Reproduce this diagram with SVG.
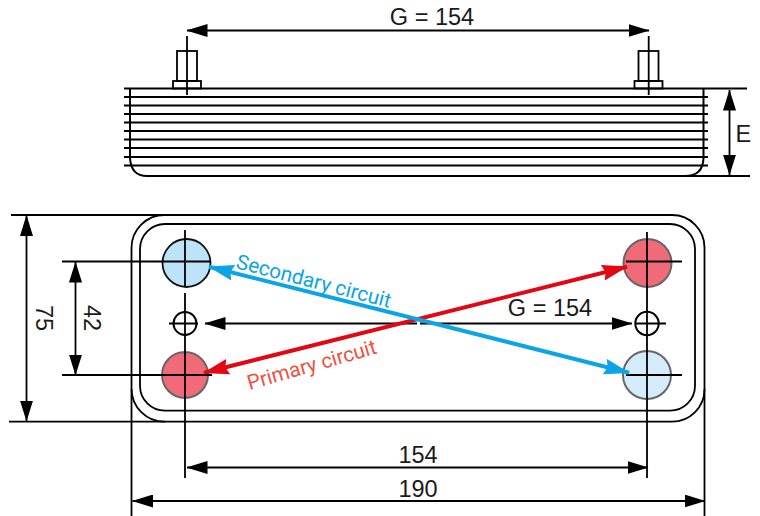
<svg xmlns="http://www.w3.org/2000/svg" width="760" height="516" viewBox="0 0 760 516">
<style>
text{font-family:"Liberation Sans",Arial,sans-serif;font-size:23.500px;fill:#1a1a1a}
.l{fill:none;stroke:#000;stroke-width:1.800}
.t{fill:none;stroke:#000;stroke-width:2}
.flow{stroke-width:4;fill:none}
.c{font-family:Roboto,"Liberation Sans",sans-serif;font-size:20.700px}
</style>
<defs>
<marker id="a" markerUnits="userSpaceOnUse" markerWidth="21" markerHeight="13" refX="20.500" refY="6.500" orient="auto-start-reverse"><path d="M0 0L21 6.500L0 13Z" fill="#000"/></marker>
<marker id="bl" markerUnits="userSpaceOnUse" markerWidth="26" markerHeight="16" refX="25" refY="8" orient="auto-start-reverse"><path d="M0 0L26 8L0 16L3 8Z" fill="#0ba5e6"/></marker>
<marker id="rd" markerUnits="userSpaceOnUse" markerWidth="26" markerHeight="16" refX="25" refY="8" orient="auto-start-reverse"><path d="M0 0L26 8L0 16L3 8Z" fill="#e30613"/></marker>
</defs>
<g id="side-view">
<path class="l" d="M124 88.500H747M124 97H708M124 105.500H708M124 114H708M124 122.500H708M124 131H708M124 139.500H708M124 148H708M124 157H708M124 165.500H708"/>
<path class="t" d="M130 89V158Q131 176 147 176H685Q703 176 703.500 158V89"/>
<path class="l" d="M679 176H750"/>
<rect class="l" x="177" y="51" width="20" height="30" fill="#fff"/>
<rect class="l" x="173" y="81" width="28" height="7.500" fill="#fff"/>
<rect class="l" x="638.500" y="51" width="20" height="30" fill="#fff"/>
<rect class="l" x="634.500" y="81" width="28" height="7.500" fill="#fff"/>
<path class="l" d="M187 36V95M648.700 36V95"/>
</g>
<g id="plate">
<path class="l" d="M131.500 389V248A33 33 0 0 1 164.500 215H672A32.500 32.500 0 0 1 704.500 247.500V389A32.500 32.500 0 0 1 672 421.700H164.500A33 33 0 0 1 131.500 389Z"/>
<rect class="l" x="140" y="224" width="555" height="186.700" rx="25" ry="25"/>
</g>
<g id="port-secondary-in"><circle cx="186.500" cy="263" r="24" fill="#bde3f9" stroke="#111" stroke-width="1.800"/></g>
<g id="port-primary-out"><circle cx="185" cy="375" r="23" fill="#f06b77" stroke="#666" stroke-width="2"/></g>
<g id="port-primary-in"><circle cx="647.500" cy="263" r="24" fill="#f06b77" stroke="#666" stroke-width="2"/></g>
<g id="port-secondary-out"><circle cx="647" cy="375" r="24" fill="#d4ebfa" stroke="#666" stroke-width="2"/></g>
<g id="stud-left"><circle cx="185" cy="323.500" r="11.500" fill="none" stroke="#000" stroke-width="2"/></g>
<g id="stud-right"><circle cx="647" cy="323.500" r="11.700" fill="none" stroke="#000" stroke-width="2"/></g>
<g id="connectors">
<path class="l" d="M187 30.500H649" marker-start="url(#a)" marker-end="url(#a)"/>
<path class="l" d="M729.500 90V175" marker-start="url(#a)" marker-end="url(#a)"/>
<path class="l" d="M26.500 215.500V421" marker-start="url(#a)" marker-end="url(#a)"/>
<path class="l" d="M75.500 262V375" marker-start="url(#a)" marker-end="url(#a)"/>
<path class="l" d="M11 215H165M9 421.700H165M62 261.500H211M62 375H212M626 261.500H682M626 375H682"/>
<path class="l" d="M185 230V287M185 293V478M647 232V478M131.500 389V516M704.500 389V516M169 323.500H198M636 323.500H666"/>
<path class="l" d="M205 323.500H417" marker-start="url(#a)"/>
<path class="l" d="M420 323.500H632" marker-end="url(#a)"/>
<path class="l" d="M187 467.500H648" marker-start="url(#a)" marker-end="url(#a)"/>
<path class="l" d="M132.500 501H705" marker-start="url(#a)" marker-end="url(#a)"/>
<path class="flow" stroke="#e30613" d="M204 372.700L627 266.700" marker-start="url(#rd)" marker-end="url(#rd)"/>
<path class="flow" stroke="#0ba5e6" d="M209 266.700L629 372.700" marker-start="url(#bl)" marker-end="url(#bl)"/>
</g>
<g id="labels">
<text x="432" y="25" text-anchor="middle">G = 154</text>
<text x="550" y="316" text-anchor="middle">G = 154</text>
<text x="735.500" y="142">E</text>
<text x="418" y="463" text-anchor="middle">154</text>
<text x="418" y="497" text-anchor="middle">190</text>
<text transform="translate(36 318) rotate(90)" text-anchor="middle">75</text>
<text transform="translate(83.500 318) rotate(90)" text-anchor="middle">42</text>
<text class="c" transform="translate(235 268) rotate(14.500)" style="fill:#0ba5e6">Secondary circuit</text>
<text class="c" transform="translate(249.500 390) rotate(-16)" style="fill:#ef5040">Primary circuit</text>
</g>
</svg>
